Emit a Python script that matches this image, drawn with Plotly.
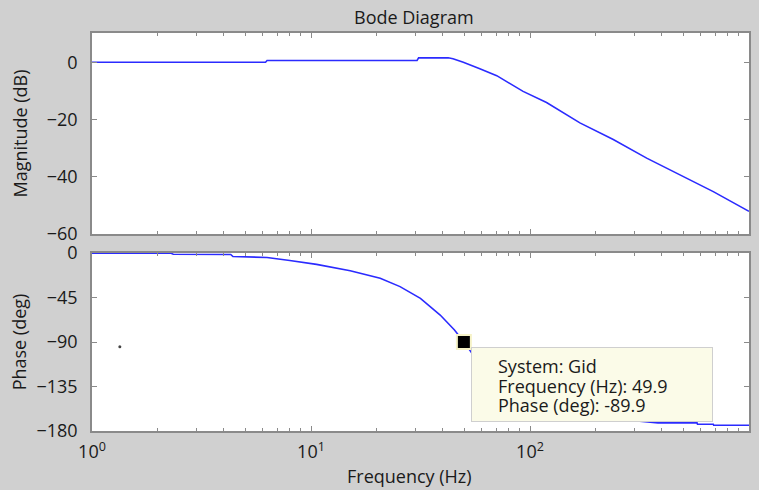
import numpy as np
import plotly.graph_objects as go

# ---- data ----
mag_freq = [1, 6.2, 6.3, 30.5, 31.0, 42.3, 44.5, 49.6, 59, 70.5, 93, 119, 169, 240, 341, 484, 687, 1000]
mag_db = [0, 0, 0.6, 0.6, 1.5, 1.55, 1.2, 0.0, -2.3, -4.7, -10.2, -14.1, -21.2, -27.0, -33.5, -39.4, -45.2, -52.1]

phase_freq = [1, 2.3, 2.35, 4.3, 4.4, 6.3, 8.0, 10.6, 15.1, 20.7, 25.5, 31.6, 38.9, 45.2, 49.9,
              60, 80, 100, 150, 200, 300, 384, 579, 582, 687, 690, 1000]
phase_deg = [-0.3, -0.3, -1.3, -1.5, -3.5, -4.5, -7.5, -11.5, -17.9, -25.6, -34, -45.8, -62.7, -77.9, -89.9,
             -115, -140, -150, -161, -166, -169.5, -171.8, -171.8, -173.2, -173.2, -174.2, -174.2]

tip_freq = [49.9]
tip_phase = [-89.9]
tip_lines = ["System: Gid", "Frequency (Hz): 49.9", "Phase (deg): -89.9"]

stray_freq = [1.34]
stray_phase = [-94.7]

x_tickvals = [1, 10, 100, 1000]
x_ticktext = ["10<sup>0</sup>", "10<sup>1</sup>", "10<sup>2</sup>", "10<sup>3</sup>"]
mag_ticks = [0, -20, -40, -60]
phase_ticks = [0, -45, -90, -135, -180]

# ---- styling ----
FONT = "Open Sans"
BG = "#d0d0d0"
AXC = "#8a8a8a"
LINE = "#2b2bff"
minor_vals = [m * 10 ** k for k in range(3) for m in range(2, 10)]

fig = go.Figure()
fig.add_trace(go.Scatter(x=mag_freq, y=mag_db, mode="lines", line=dict(color=LINE, width=1.6),
                         xaxis="x", yaxis="y", showlegend=False, hoverinfo="skip"))
fig.add_trace(go.Scatter(x=phase_freq, y=phase_deg, mode="lines", line=dict(color=LINE, width=1.6),
                         xaxis="x2", yaxis="y2", showlegend=False, hoverinfo="skip"))
fig.add_trace(go.Scatter(x=stray_freq, y=stray_phase, mode="markers",
                         marker=dict(color="#444444", size=3), xaxis="x2", yaxis="y2",
                         showlegend=False, hoverinfo="skip"))

axis_common = dict(
    type="log", range=[0, 3], showline=True, linecolor=AXC, linewidth=1.5, mirror="ticks",
    ticks="inside", ticklen=5, tickcolor=AXC, tickwidth=1.2, showgrid=False, zeroline=False,
    tickvals=x_tickvals, ticktext=x_ticktext, automargin=False,
    minor=dict(tickvals=minor_vals, ticks="inside", ticklen=3, tickcolor=AXC, tickwidth=1.2, showgrid=False),
    tickfont=dict(family=FONT, size=18, color="#1a1a1a"),
)
yaxis_common = dict(showline=True, linecolor=AXC, linewidth=1.5, mirror="ticks", ticks="inside",
                    ticklen=5, tickcolor=AXC, tickwidth=1.2, showgrid=False, zeroline=False,
                    ticklabelstandoff=9, automargin=False)

fig.update_layout(
    width=759, height=490,
    margin=dict(l=92, r=10, t=33, b=59, autoexpand=False),
    paper_bgcolor=BG, plot_bgcolor="white",
    font=dict(family=FONT, size=18, color="#1a1a1a"),
    xaxis=dict(axis_common, anchor="y", domain=[0, 1], showticklabels=False),
    yaxis=dict(yaxis_common, domain=[0.495, 1], range=[-60, 10.2], tickvals=mag_ticks,
               title=dict(text="Magnitude (dB)", standoff=14, font=dict(size=18))),
    xaxis2=dict(axis_common, anchor="y2", domain=[0, 1], matches="x", ticklabelstandoff=4),
    yaxis2=dict(yaxis_common, domain=[0, 0.4472], range=[-180, 0], tickvals=phase_ticks,
                title=dict(text="Phase (deg)", standoff=5, font=dict(size=18))),
)

# datatip marker
fig.add_trace(go.Scatter(x=tip_freq, y=tip_phase, mode="markers",
                         marker=dict(symbol="square", size=14, color="black",
                                     line=dict(color="#f6f3c8", width=2)),
                         xaxis="x2", yaxis="y2", showlegend=False, hoverinfo="skip"))

tx = float(np.log10(tip_freq[0]))
ty = tip_phase[0]
# datatip box
fig.add_annotation(x=tx, y=ty, xref="x2", yref="y2", text=" ", showarrow=False,
                   xanchor="left", yanchor="top", xshift=7, yshift=-5,
                   width=240, height=73, bgcolor="#fbfbe8", bordercolor="#cfcfcf",
                   borderwidth=1, borderpad=0)
for i, line in enumerate(tip_lines):
    fig.add_annotation(x=tx, y=ty, xref="x2", yref="y2", text=line, showarrow=False,
                       xanchor="left", yanchor="top", xshift=32, yshift=-10 - 19.6 * i,
                       font=dict(family=FONT, size=18, color="#1a1a1a"))

# title and x-axis title
fig.add_annotation(x=0.49, y=1, xref="paper", yref="paper", text="Bode Diagram", showarrow=False,
                   xanchor="center", yanchor="middle", yshift=16, font=dict(size=18))
fig.add_annotation(x=0.4825, y=0, xref="paper", yref="paper", text="Frequency (Hz)", showarrow=False,
                   xanchor="center", yanchor="middle", yshift=-45, font=dict(size=18))

fig.write_html("out.html", config={"displayModeBar": False},
               post_script="document.body.style.margin='0';document.body.style.background='%s';"
                           "document.body.style.overflow='hidden';" % BG)
